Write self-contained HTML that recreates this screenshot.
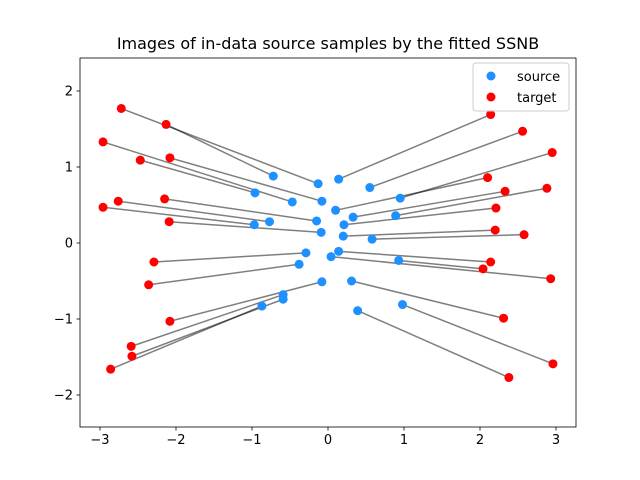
<!DOCTYPE html>
<html><head><meta charset="utf-8"><style>body{margin:0;background:#fff}svg{display:block;font-family:"DejaVu Sans","Liberation Sans",sans-serif}</style></head>
<body>
<svg id="chart" width="640" height="480" viewBox="0 0 640 480"></svg>
<script>
const srcX=[-0.13,-0.72,-0.47,-0.96,-0.08,-0.77,-0.15,-0.97,-0.09,-0.29,-0.38,-0.08,-0.59,-0.59,-0.87,0.14,0.55,0.10,0.95,0.33,0.89,0.21,0.20,0.58,0.14,0.04,0.93,0.31,0.98,0.39];
const srcY=[0.78,0.88,0.54,0.66,0.55,0.28,0.29,0.24,0.14,-0.13,-0.28,-0.51,-0.68,-0.74,-0.83,0.84,0.73,0.43,0.59,0.34,0.36,0.24,0.09,0.05,-0.11,-0.18,-0.23,-0.50,-0.81,-0.89];
const tgtX=[-2.72,-2.13,-2.96,-2.47,-2.08,-2.76,-2.15,-2.96,-2.09,-2.29,-2.36,-2.08,-2.59,-2.58,-2.86,2.14,2.56,2.10,2.95,2.33,2.88,2.21,2.20,2.58,2.14,2.93,2.04,2.31,2.96,2.38];
const tgtY=[1.77,1.56,1.33,1.09,1.12,0.55,0.58,0.47,0.28,-0.25,-0.55,-1.03,-1.36,-1.49,-1.66,1.69,1.47,0.86,1.19,0.68,0.72,0.46,0.17,0.11,-0.25,-0.47,-0.34,-0.99,-1.59,-1.77];
const xTicks=[-3,-2,-1,0,1,2,3];
const yTicks=[-2,-1,0,1,2];
const L=80,R=576,T=58,B=427,xmin=-3.263,xmax=3.263,ymin=-2.421,ymax=2.434;
const sx=v=>L+(v-xmin)/(xmax-xmin)*(R-L);
const sy=v=>B-(v-ymin)/(ymax-ymin)*(B-T);
const svg=document.getElementById('chart');const NS='http://www.w3.org/2000/svg';
function mk(t,a,p){const e=document.createElementNS(NS,t);for(const k in a)e.setAttribute(k,a[k]);(p||svg).appendChild(e);return e;}
const title=mk('text',{x:328,y:49,'text-anchor':'middle','font-size':16,fill:'#000'});title.textContent='Images of in-data source samples by the fitted SSNB';


const lg=mk('g',{});


for(let i=0;i<srcX.length;i++){const l=mk('line',{x1:sx(srcX[i]),y1:sy(srcY[i]),x2:sx(tgtX[i]),y2:sy(tgtY[i]),stroke:'#000','stroke-opacity':0.5,'stroke-width':1.5},lg);

}
for(let i=0;i<srcX.length;i++){const c=mk('circle',{cx:sx(srcX[i]),cy:sy(srcY[i]),r:4.5,fill:'#1e90ff'});

}
for(let i=0;i<tgtX.length;i++){const c=mk('circle',{cx:sx(tgtX[i]),cy:sy(tgtY[i]),r:4.5,fill:'#ff0000'});

}
const frame=mk('rect',{x:L,y:T,width:R-L,height:B-T,fill:'none',stroke:'#000','stroke-width':0.8});


xTicks.forEach(v=>{const x=sx(v);mk('line',{x1:x,y1:B,x2:x,y2:B+3.5,stroke:'#000','stroke-width':0.8});
const t=mk('text',{x:x,y:B+17,'text-anchor':'middle','font-size':13,fill:'#000'});t.textContent=v<0?'\u2212'+Math.abs(v):String(v);

});
yTicks.forEach(v=>{const y=sy(v);mk('line',{x1:L-3.5,y1:y,x2:L,y2:y,stroke:'#000','stroke-width':0.8});
const t=mk('text',{x:L-7,y:y+4.5,'text-anchor':'end','font-size':13,fill:'#000'});t.textContent=v<0?'\u2212'+Math.abs(v):String(v);

});
const leg=mk('g',{});


mk('rect',{x:473,y:63,width:96,height:48,rx:3,fill:'#fff','fill-opacity':0.8,stroke:'#ccc'},leg);
mk('circle',{cx:491,cy:76,r:4.5,fill:'#1e90ff'},leg);
const t1=mk('text',{x:517,y:81,'font-size':13,fill:'#000'},leg);t1.textContent='source';


mk('circle',{cx:491,cy:97,r:4.5,fill:'#ff0000'},leg);
const t2=mk('text',{x:517,y:102,'font-size':13,fill:'#000'},leg);t2.textContent='target';


</script>
</body></html>
